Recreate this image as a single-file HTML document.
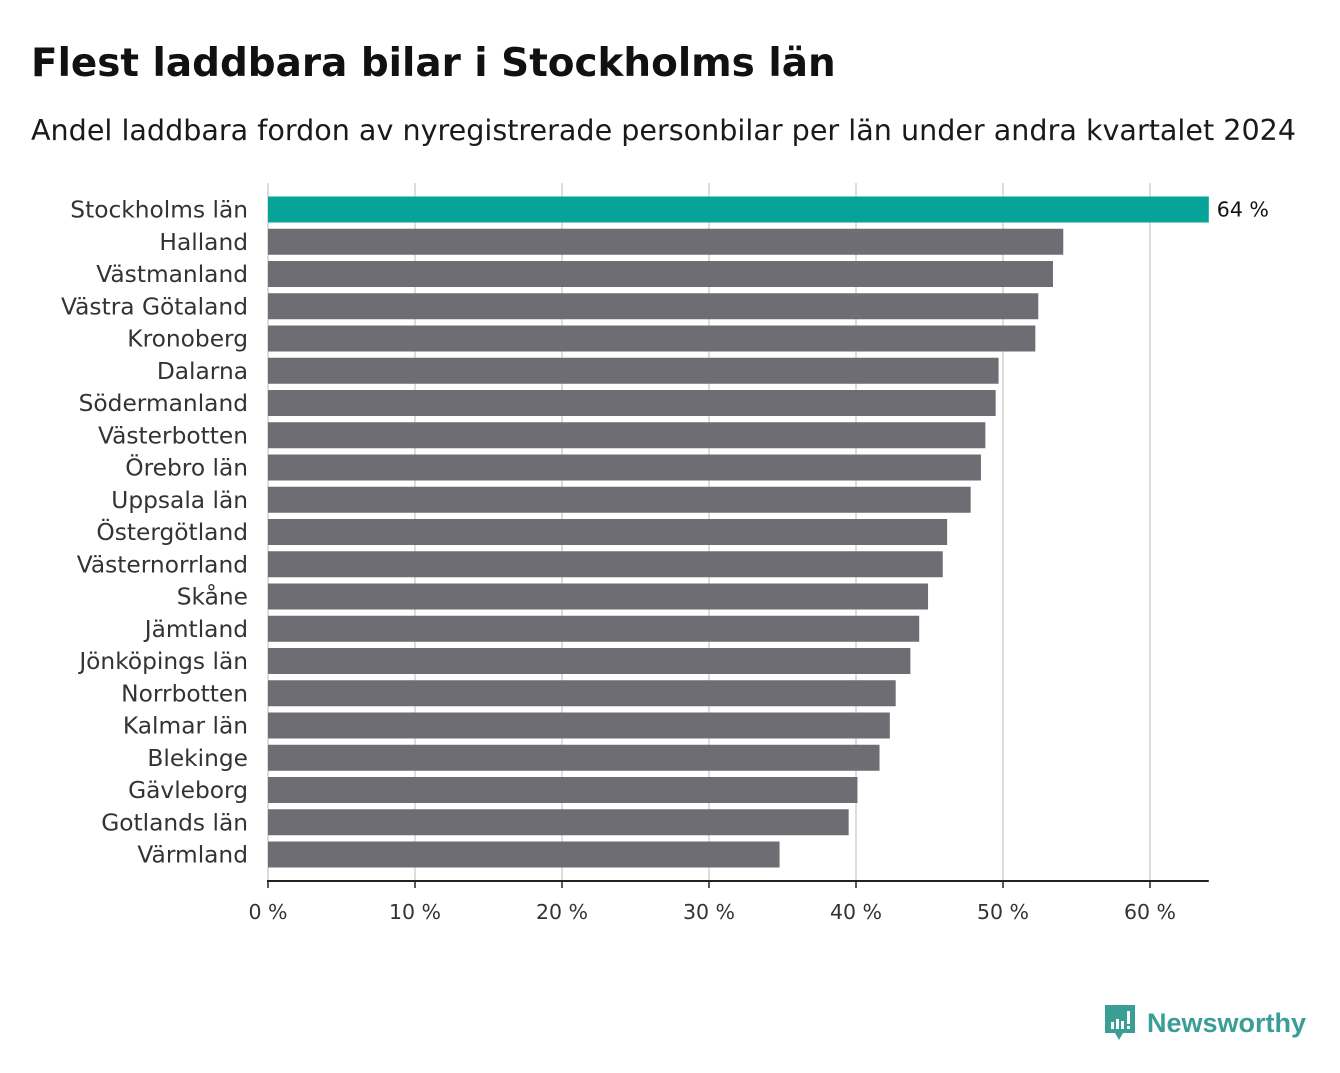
<!DOCTYPE html>
<html><head><meta charset="utf-8"><style>
body{margin:0;background:#fff;width:1340px;height:1073px;overflow:hidden;font-family:"DejaVu Sans","Liberation Sans",sans-serif;}
#title{position:absolute;left:31px;top:41px;font-size:38.9px;font-weight:bold;color:#111;margin:0;white-space:nowrap;}
#sub{position:absolute;left:31px;top:113px;font-size:28.6px;color:#1a1a1a;white-space:nowrap;}
svg{position:absolute;left:0;top:0;}
#logo{position:absolute;left:1103px;top:1003px;display:flex;align-items:center;}
</style></head><body>
<h1 id="title">Flest laddbara bilar i Stockholms län</h1>
<div id="sub">Andel laddbara fordon av nyregistrerade personbilar per län under andra kvartalet 2024</div>
<svg id="chart" width="1340" height="1073"></svg>
<div id="logo">
<svg width="34" height="40" style="position:static"><path d="M2 2h30v28h-12l-4 7-4-7H2z" fill="#3a9e95"/><rect x="8" y="19" width="3" height="7" fill="#fff"/><rect x="13" y="16" width="3" height="10" fill="#fff"/><rect x="18" y="18" width="3" height="8" fill="#fff"/><rect x="24" y="8" width="3" height="13" fill="#fff"/><rect x="24" y="23" width="3" height="3" fill="#fff"/></svg>
<span style="font-family:'Liberation Sans',sans-serif;font-size:27px;font-weight:bold;color:#3a9e95;margin-left:10px">Newsworthy</span>
</div>
<script>
const categories=["Stockholms län","Halland","Västmanland","Västra Götaland","Kronoberg","Dalarna","Södermanland","Västerbotten","Örebro län","Uppsala län","Östergötland","Västernorrland","Skåne","Jämtland","Jönköpings län","Norrbotten","Kalmar län","Blekinge","Gävleborg","Gotlands län","Värmland"];
const values=[64,54.1,53.4,52.4,52.2,49.7,49.5,48.8,48.5,47.8,46.2,45.9,44.9,44.3,43.7,42.7,42.3,41.6,40.1,39.5,34.8];
const ticks=[0,10,20,30,40,50,60];
const NS="http://www.w3.org/2000/svg";
const svg=document.getElementById('chart');
const x0=268,pxPer=14.7,rowTop=193.5,step=32.25,barH=26;
const xs=v=>x0+v*pxPer;
const ys=i=>rowTop+i*step;
function mk(t,a){const e=document.createElementNS(NS,t);for(const k in a)e.setAttribute(k,a[k]);svg.appendChild(e);return e;}
ticks.forEach(t=>{
 const g=mk('line',{x1:xs(t),x2:xs(t),y1:183,y2:881,stroke:'#dddddd','stroke-width':2});
 
 
 const tk=mk('line',{x1:xs(t),x2:xs(t),y1:881,y2:888,stroke:'#222','stroke-width':1.5});
 
 
 const l=mk('text',{x:xs(t),y:919,'text-anchor':'middle','font-size':20.5,fill:'#333'});
 l.textContent=t+' %';
 
 
});
categories.forEach((c,i)=>{
 const r=mk('rect',{x:x0,y:ys(i)+3,width:xs(values[i])-x0,height:barH,fill:i===0?'#05a398':'#6e6d74'});
 
 
 const l=mk('text',{x:248,y:ys(i)+24,'text-anchor':'end','font-size':23.3,fill:'#333'});
 l.textContent=c;
 
 
});
const v=mk('text',{x:xs(values[0])+8,y:ys(0)+23,'font-size':20.5,fill:'#111'});
v.textContent=Math.round(values[0])+' %';


const ax=mk('line',{x1:x0-1,x2:xs(64),y1:881,y2:881,stroke:'#222','stroke-width':2});


</script>
</body></html>
